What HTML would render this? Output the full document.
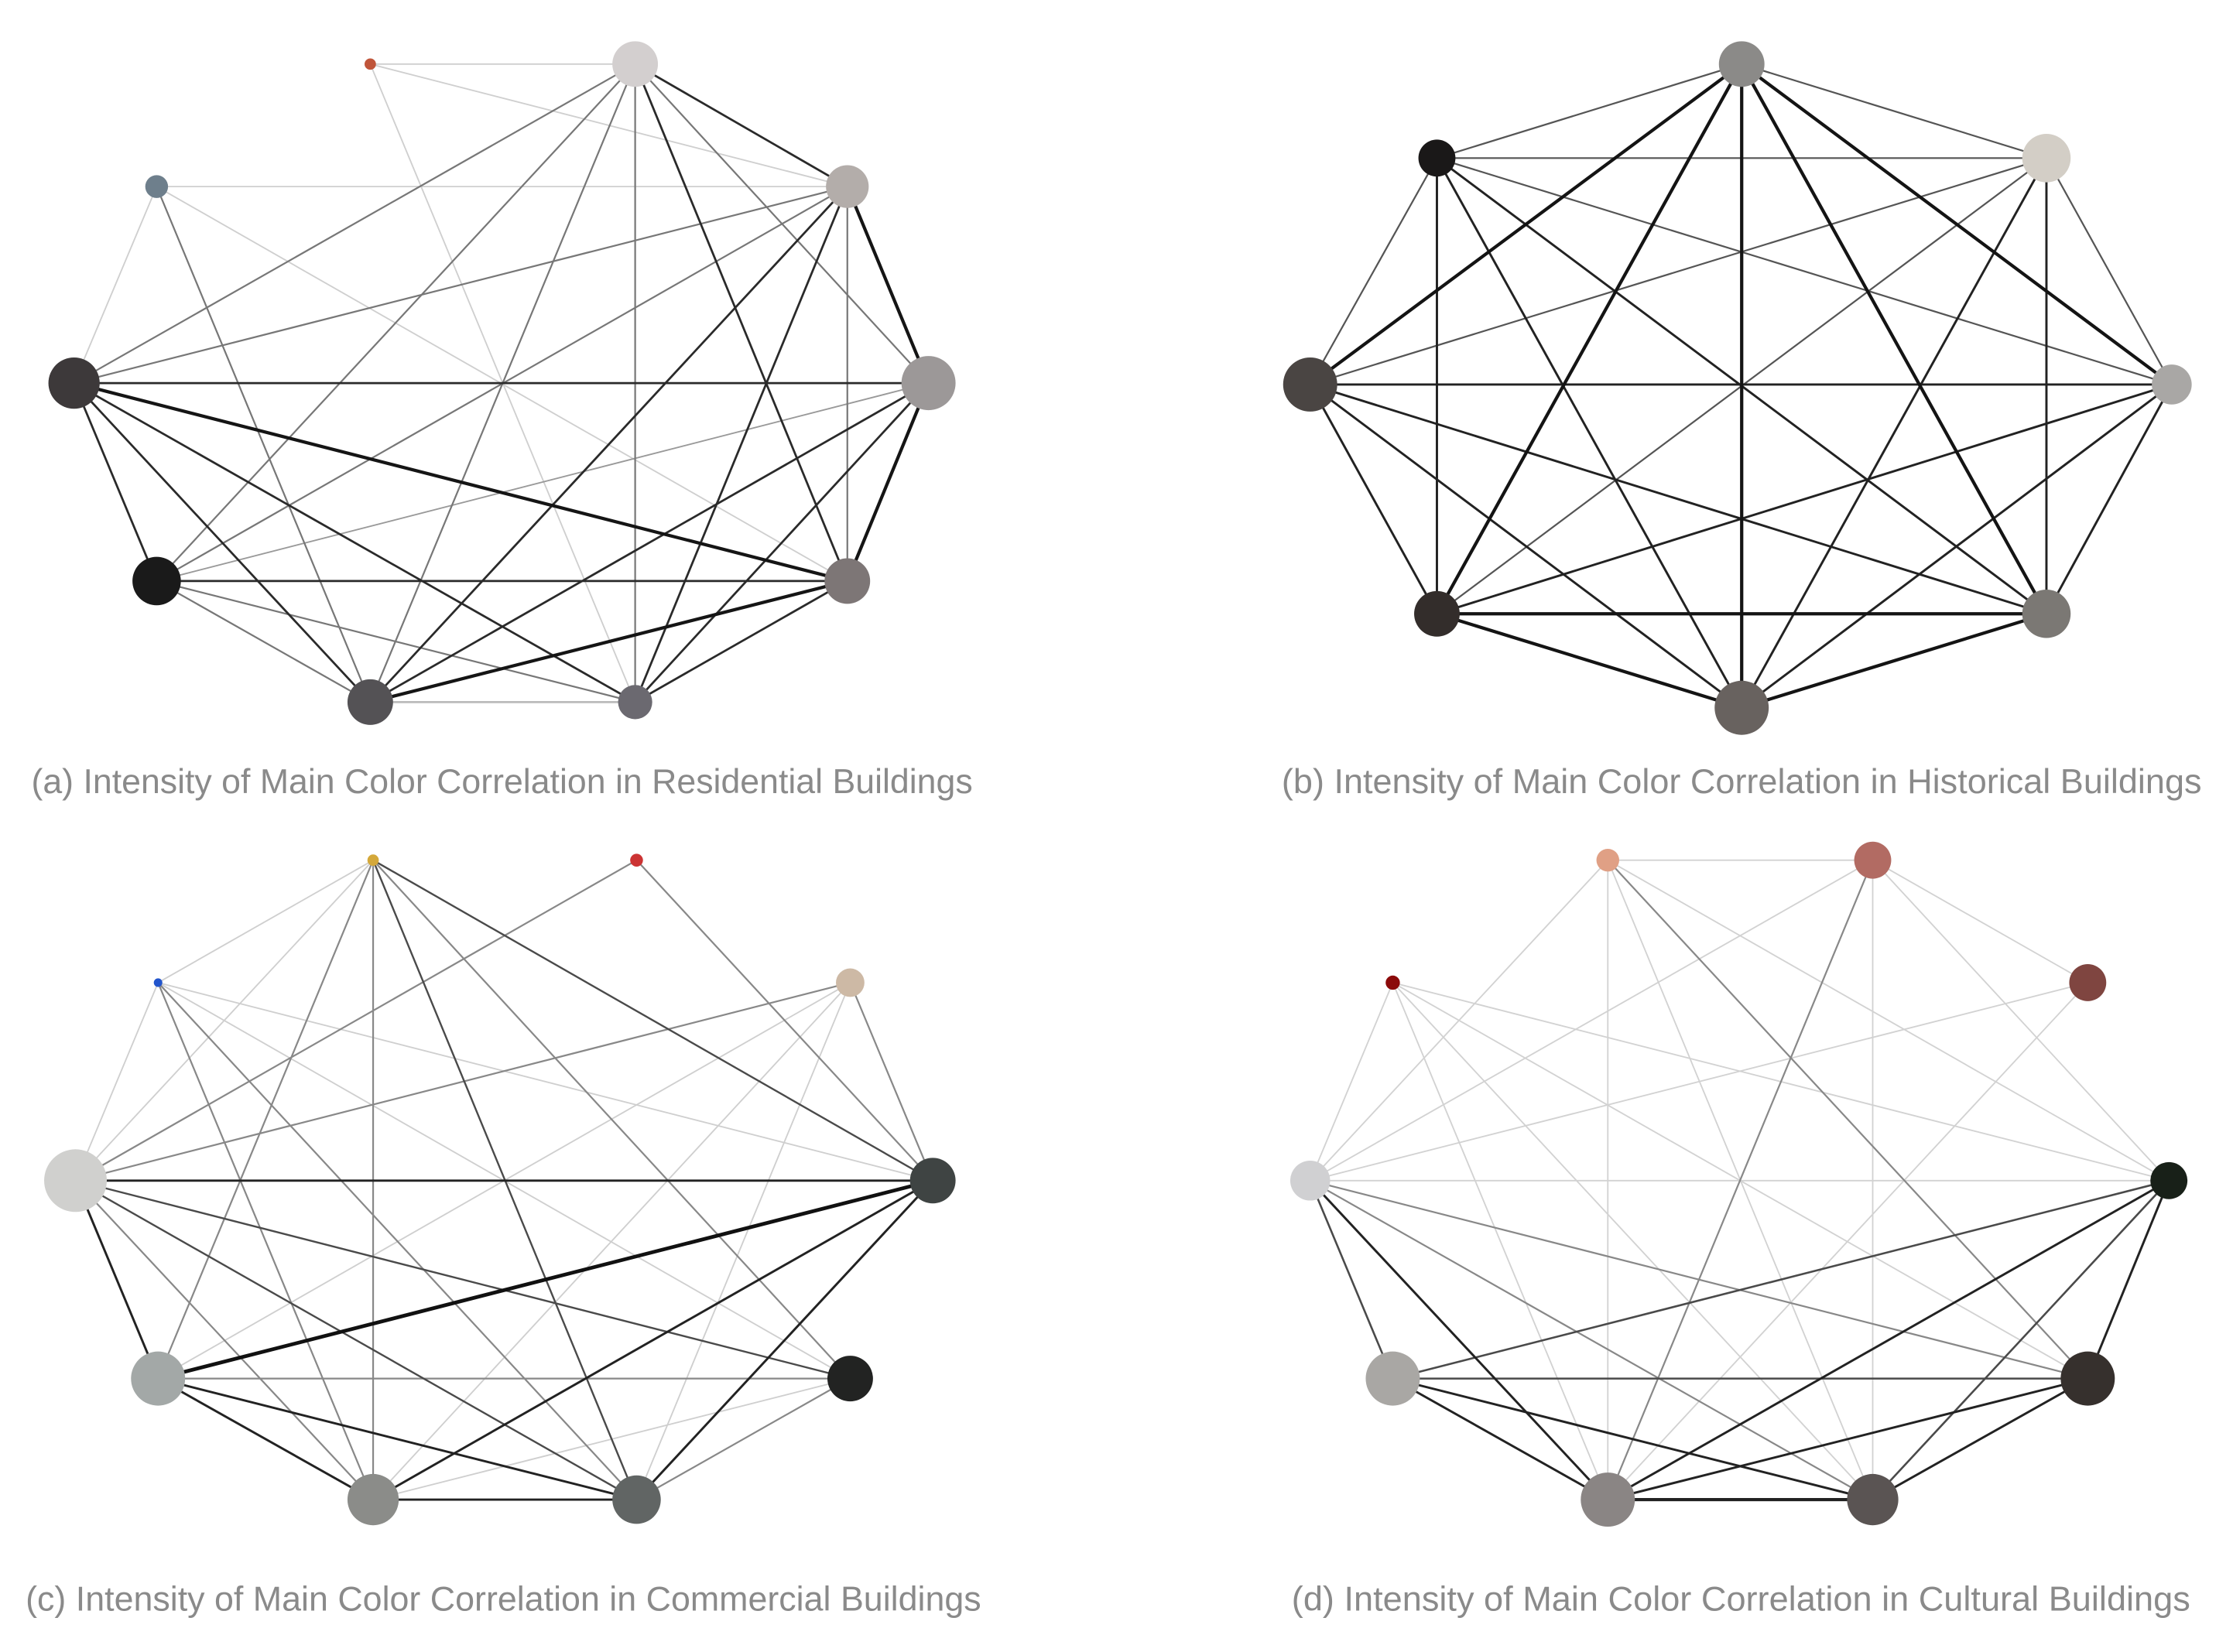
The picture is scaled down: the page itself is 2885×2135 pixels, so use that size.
<!DOCTYPE html>
<html><head><meta charset="utf-8"><style>
html,body{margin:0;padding:0;background:#fff;}
svg{display:block;}
text{font-family:"Liberation Sans",sans-serif;fill:#8a8a8a;font-size:24px;}
</style></head><body>
<svg width="2885" height="2135" viewBox="0 0 1568 1160" preserveAspectRatio="none" xmlns="http://www.w3.org/2000/svg">
<rect width="1568" height="1160" fill="#fff"/>
<!-- (a) -->
<g stroke="#cfcfcf" stroke-width="1">
<line x1="260" y1="45" x2="446" y2="45"/><line x1="260" y1="45" x2="595" y2="131"/><line x1="260" y1="45" x2="446" y2="493"/>
<line x1="110" y1="131" x2="595" y2="131"/><line x1="110" y1="131" x2="52" y2="269"/><line x1="110" y1="131" x2="595" y2="408"/>
<line x1="260" y1="493" x2="446" y2="493" stroke="#bbb" stroke-width="1.5"/><line x1="652" y1="269" x2="110" y2="408" stroke="#999"/>
</g>
<g stroke="#777" stroke-width="1.2">
<line x1="446" y1="45" x2="52" y2="269"/><line x1="446" y1="45" x2="110" y2="408"/><line x1="446" y1="45" x2="260" y2="493"/>
<line x1="446" y1="45" x2="446" y2="493"/><line x1="446" y1="45" x2="652" y2="269"/><line x1="110" y1="131" x2="260" y2="493"/>
<line x1="595" y1="131" x2="52" y2="269"/><line x1="595" y1="131" x2="595" y2="408"/><line x1="595" y1="131" x2="110" y2="408"/>
<line x1="110" y1="408" x2="260" y2="493"/><line x1="110" y1="408" x2="446" y2="493"/>
</g>
<g stroke="#2a2a2a" stroke-width="1.5">
<line x1="446" y1="45" x2="595" y2="408"/><line x1="446" y1="45" x2="595" y2="131"/><line x1="595" y1="131" x2="260" y2="493"/>
<line x1="595" y1="131" x2="446" y2="493"/><line x1="52" y1="269" x2="652" y2="269"/><line x1="52" y1="269" x2="110" y2="408"/>
<line x1="52" y1="269" x2="260" y2="493"/><line x1="52" y1="269" x2="446" y2="493"/><line x1="652" y1="269" x2="260" y2="493"/>
<line x1="652" y1="269" x2="446" y2="493"/><line x1="110" y1="408" x2="595" y2="408"/><line x1="595" y1="408" x2="446" y2="493"/>
</g>
<g stroke="#151515" stroke-width="2.3">
<line x1="595" y1="131" x2="652" y2="269"/><line x1="52" y1="269" x2="595" y2="408"/><line x1="652" y1="269" x2="595" y2="408"/><line x1="595" y1="408" x2="260" y2="493"/>
</g>
<circle cx="260" cy="45" r="4" fill="#c0553a"/><circle cx="446" cy="45" r="16" fill="#d3cfcf"/>
<circle cx="110" cy="131" r="8" fill="#6e7f8c"/><circle cx="595" cy="131" r="15" fill="#b3adaa"/>
<circle cx="52" cy="269" r="18" fill="#3d393a"/><circle cx="652" cy="269" r="19" fill="#9c9898"/>
<circle cx="110" cy="408" r="17" fill="#1a1a1a"/><circle cx="595" cy="408" r="16" fill="#7d7676"/>
<circle cx="260" cy="493" r="16" fill="#545255"/><circle cx="446" cy="493" r="12" fill="#6b6970"/>
<text x="22" y="557" textLength="661" lengthAdjust="spacingAndGlyphs">(a) Intensity of Main Color Correlation in Residential Buildings</text>

<!-- (b) -->
<g stroke="#555" stroke-width="1.2">
<line x1="1223" y1="45" x2="1009" y2="111"/><line x1="1223" y1="45" x2="1437" y2="111"/><line x1="1009" y1="111" x2="1437" y2="111"/>
<line x1="1009" y1="111" x2="920" y2="270"/><line x1="1009" y1="111" x2="1525" y2="270"/><line x1="1437" y1="111" x2="920" y2="270"/>
<line x1="1437" y1="111" x2="1525" y2="270"/><line x1="1437" y1="111" x2="1009" y2="431"/>
</g>
<g stroke="#222" stroke-width="1.6">
<line x1="1009" y1="111" x2="1009" y2="431"/><line x1="1009" y1="111" x2="1437" y2="431"/><line x1="1009" y1="111" x2="1223" y2="497"/>
<line x1="1437" y1="111" x2="1437" y2="431"/><line x1="1437" y1="111" x2="1223" y2="497"/>
<line x1="920" y1="270" x2="1525" y2="270"/><line x1="920" y1="270" x2="1009" y2="431"/><line x1="920" y1="270" x2="1437" y2="431"/><line x1="920" y1="270" x2="1223" y2="497"/>
<line x1="1525" y1="270" x2="1009" y2="431"/><line x1="1525" y1="270" x2="1437" y2="431"/><line x1="1525" y1="270" x2="1223" y2="497"/>
</g>
<g stroke="#141414" stroke-width="2.3">
<line x1="1223" y1="45" x2="920" y2="270"/><line x1="1223" y1="45" x2="1525" y2="270"/><line x1="1223" y1="45" x2="1009" y2="431"/>
<line x1="1223" y1="45" x2="1437" y2="431"/><line x1="1223" y1="45" x2="1223" y2="497"/>
<line x1="1009" y1="431" x2="1437" y2="431"/><line x1="1009" y1="431" x2="1223" y2="497"/><line x1="1437" y1="431" x2="1223" y2="497"/>
</g>
<circle cx="1223" cy="45" r="16" fill="#8b8a88"/><circle cx="1009" cy="111" r="13" fill="#1a1818"/>
<circle cx="1437" cy="111" r="17" fill="#d3cec6"/><circle cx="920" cy="270" r="19" fill="#4a4543"/>
<circle cx="1525" cy="270" r="14" fill="#a9a7a5"/><circle cx="1009" cy="431" r="16" fill="#332d2b"/>
<circle cx="1437" cy="431" r="17" fill="#7b7874"/><circle cx="1223" cy="497" r="19" fill="#68625f"/>
<text x="900" y="557" textLength="646" lengthAdjust="spacingAndGlyphs">(b) Intensity of Main Color Correlation in Historical Buildings</text>

<!-- (c) -->
<g stroke="#cfcfcf" stroke-width="1">
<line x1="262" y1="604" x2="111" y2="690"/><line x1="262" y1="604" x2="53" y2="829"/><line x1="111" y1="690" x2="53" y2="829"/>
<line x1="111" y1="690" x2="597" y2="968"/><line x1="111" y1="690" x2="655" y2="829"/><line x1="597" y1="690" x2="111" y2="968"/>
<line x1="597" y1="690" x2="262" y2="1053"/><line x1="597" y1="690" x2="447" y2="1053"/><line x1="597" y1="968" x2="262" y2="1053"/>
</g>
<g stroke="#888" stroke-width="1.2">
<line x1="262" y1="604" x2="111" y2="968"/><line x1="262" y1="604" x2="262" y2="1053"/><line x1="262" y1="604" x2="597" y2="968"/>
<line x1="447" y1="604" x2="53" y2="829"/><line x1="447" y1="604" x2="655" y2="829"/><line x1="111" y1="690" x2="262" y2="1053"/>
<line x1="111" y1="690" x2="447" y2="1053"/><line x1="597" y1="690" x2="53" y2="829"/><line x1="597" y1="690" x2="655" y2="829"/>
<line x1="111" y1="968" x2="597" y2="968"/><line x1="597" y1="968" x2="447" y2="1053"/><line x1="53" y1="829" x2="262" y2="1053"/>
</g>
<g stroke="#4a4a4a" stroke-width="1.3">
<line x1="262" y1="604" x2="447" y2="1053"/><line x1="262" y1="604" x2="655" y2="829"/><line x1="53" y1="829" x2="447" y2="1053"/><line x1="53" y1="829" x2="597" y2="968"/>
</g>
<g stroke="#222" stroke-width="1.6">
<line x1="53" y1="829" x2="655" y2="829"/><line x1="53" y1="829" x2="111" y2="968"/><line x1="655" y1="829" x2="262" y2="1053"/>
<line x1="655" y1="829" x2="447" y2="1053"/><line x1="111" y1="968" x2="262" y2="1053"/><line x1="111" y1="968" x2="447" y2="1053"/>
<line x1="262" y1="1053" x2="447" y2="1053"/>
</g>
<line x1="655" y1="829" x2="111" y2="968" stroke="#111" stroke-width="2.6"/>
<circle cx="262" cy="604" r="4" fill="#d4a83a"/><circle cx="447" cy="604" r="4.5" fill="#cc3333"/>
<circle cx="111" cy="690" r="3" fill="#2255cc"/><circle cx="597" cy="690" r="10" fill="#cdb9a5"/>
<circle cx="53" cy="829" r="22" fill="#d0d0ce"/><circle cx="655" cy="829" r="16" fill="#3f4443"/>
<circle cx="111" cy="968" r="19" fill="#a3a8a7"/><circle cx="597" cy="968" r="16" fill="#222322"/>
<circle cx="262" cy="1053" r="18" fill="#8b8c89"/><circle cx="447" cy="1053" r="17" fill="#616564"/>
<text x="18" y="1131" textLength="671" lengthAdjust="spacingAndGlyphs">(c) Intensity of Main Color Correlation in Commercial Buildings</text>

<!-- (d) -->
<g stroke="#d2d2d2" stroke-width="1">
<line x1="1129" y1="604" x2="1315" y2="604"/><line x1="1129" y1="604" x2="920" y2="829"/><line x1="1129" y1="604" x2="1129" y2="1053"/>
<line x1="1129" y1="604" x2="1315" y2="1053"/><line x1="1129" y1="604" x2="1523" y2="829"/><line x1="1315" y1="604" x2="920" y2="829"/>
<line x1="1315" y1="604" x2="1315" y2="1053"/><line x1="1315" y1="604" x2="1523" y2="829"/><line x1="1315" y1="604" x2="1466" y2="690"/>
<line x1="978" y1="690" x2="920" y2="829"/><line x1="978" y1="690" x2="1129" y2="1053"/><line x1="978" y1="690" x2="1315" y2="1053"/>
<line x1="978" y1="690" x2="1466" y2="968"/><line x1="978" y1="690" x2="1523" y2="829"/><line x1="1466" y1="690" x2="920" y2="829"/>
<line x1="1466" y1="690" x2="1129" y2="1053"/><line x1="920" y1="829" x2="1523" y2="829"/>
</g>
<g stroke="#888" stroke-width="1.2">
<line x1="1129" y1="604" x2="1466" y2="968"/><line x1="1315" y1="604" x2="1129" y2="1053"/><line x1="920" y1="829" x2="1315" y2="1053"/><line x1="920" y1="829" x2="1466" y2="968"/>
</g>
<g stroke="#4a4a4a" stroke-width="1.4">
<line x1="1523" y1="829" x2="978" y2="968"/><line x1="1523" y1="829" x2="1315" y2="1053"/><line x1="978" y1="968" x2="1466" y2="968"/><line x1="920" y1="829" x2="978" y2="968"/>
</g>
<g stroke="#222" stroke-width="1.6">
<line x1="920" y1="829" x2="1129" y2="1053"/><line x1="1523" y1="829" x2="1129" y2="1053"/><line x1="1523" y1="829" x2="1466" y2="968"/>
<line x1="978" y1="968" x2="1129" y2="1053"/><line x1="978" y1="968" x2="1315" y2="1053"/><line x1="1466" y1="968" x2="1129" y2="1053"/>
<line x1="1466" y1="968" x2="1315" y2="1053"/><line x1="1129" y1="1053" x2="1315" y2="1053" stroke-width="2.3"/>
</g>
<circle cx="1129" cy="604" r="8" fill="#e0a085"/><circle cx="1315" cy="604" r="13" fill="#b26b63"/>
<circle cx="978" cy="690" r="5" fill="#8b0a0a"/><circle cx="1466" cy="690" r="13" fill="#7f4540"/>
<circle cx="920" cy="829" r="14" fill="#d0d0d2"/><circle cx="1523" cy="829" r="13" fill="#182018"/>
<circle cx="978" cy="968" r="19" fill="#a9a7a4"/><circle cx="1466" cy="968" r="19" fill="#36302d"/>
<circle cx="1129" cy="1053" r="19" fill="#8a8584"/><circle cx="1315" cy="1053" r="18" fill="#5a5453"/>
<text x="907" y="1131" textLength="631" lengthAdjust="spacingAndGlyphs">(d) Intensity of Main Color Correlation in Cultural Buildings</text>
</svg>
</body></html>
